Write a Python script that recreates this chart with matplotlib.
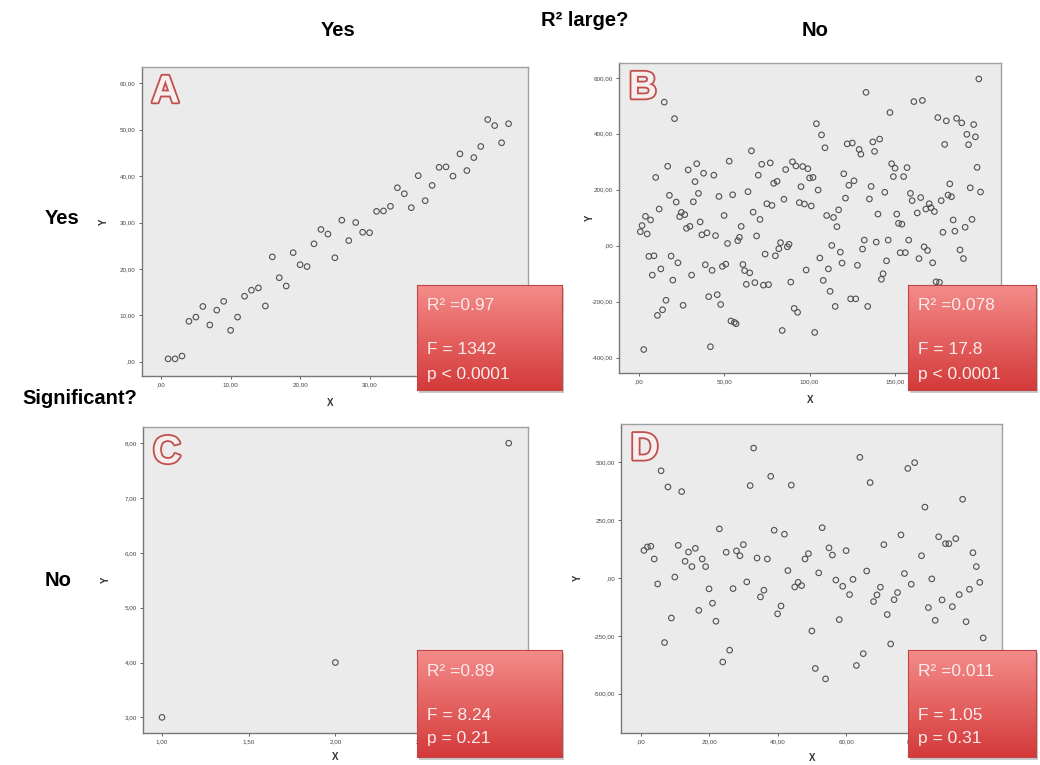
import numpy as np
import matplotlib
matplotlib.use("Agg")
import matplotlib.pyplot as plt
import matplotlib.patheffects as pe
from matplotlib.ticker import FuncFormatter, FixedLocator
from matplotlib.patches import Rectangle

plt.rcParams['font.family'] = ['Liberation Sans', 'DejaVu Sans']

# ---------------- data ----------------
A_x = list(range(1, 51))
A_y = [0.6, 0.6, 1.2, 8.7, 9.6, 11.9, 7.9, 11.1, 13.0, 6.75, 9.6, 14.1, 15.4, 15.9, 12.0,
       22.6, 18.1, 16.3, 23.5, 20.9, 20.5, 25.4, 28.5, 27.5, 22.4, 30.5, 26.1, 30.0, 27.9,
       27.8, 32.4, 32.5, 33.5, 37.5, 36.2, 33.2, 40.1, 34.7, 38.0, 41.9, 42.0, 40.0, 44.8,
       41.2, 44.0, 46.4, 52.2, 50.9, 47.2, 51.3]

B_x = list(range(1, 162)) + list(range(163, 187)) + list(range(188, 201))
B_y = [50, 72, -371, 105, 42, -38, 92, -105, -36, 244,
       -249, 131, -83, -229, 513, -195, 284, 180, -37, -123,
       454, 156, -61, 104, 119, -213, 111, 62, 271, 69,
       -105, 157, 229, 293, 187, 85, 39, 259, -68, 46,
       -182, -361, -88, 252, 36, -175, 176, -210, -74, 108,
       -66, 8, 302, -269, 182, -274, -279, 18, 30, 69,
       -67, -89, -138, 193, -97, 339, 120, -132, 35, 252,
       94, 291, -141, -30, 150, -139, 296, 144, 223, -36,
       230, -11, 11, -303, 166, 272, -4, 5, -130, 300,
       -224, 285, -238, 154, 211, 283, 149, -87, 275, 242,
       142, 244, -310, 436, 199, -44, 396, -124, 350, 108,
       -83, -163, 1, 101, -217, 68, 128, -23, -62, 257,
       170, 364, 216, -190, 367, 232, -190, -70, 344, 327,
       -12, 20, 548, -217, 167, 212, 371, 337, 13, 113,
       381, -120, -100, 191, -54, 20, 476, 293, 247, 277,
       113, 80, -25, 77, 247, -25, 279, 20, 187, 161,
       515,
       117, -46, 172, 519, -4, 131, -17, 150, 136, -61,
       122, -129, 458, -131, 161, 48, 362, 446, 181, 221,
       175, 92, 52, 455,
       -15, 439, -46, 66, 398, 361, 207, 94, 433, 389, 280, 596, 192]

C_x = [1.0, 2.0, 3.0]
C_y = [3.0, 4.0, 8.0]

D_x = list(range(1, 81)) + list(range(82, 101))
D_y = [119, 134, 137, 82, -26, 463, -279, 393, -173, 4,
       141, 373, 72, 112, 49, 128, -140, 82, 49, -47,
       -109, -187, 212, -363, 111, -312, -46, 117, 96, 144,
       -17, 399, 561, 86, -82, -53, 82, 439, 206, -155,
       -121, 189, 32, 401, -39, -19, -33, 82, 105, -229,
       -391, 22, 217, -436, 130, 99, -9, -180, -36, 118,
       -72, -6, -378, 521, -327, 30, 412, -102, -73, -40,
       144, -158, -285, -94, -63, 186, 19, 473, -27, 498,
       96, 306, -128, -4, -183, 178, -95, 148, 148, -124,
       170, -72, 340, -189, -49, 109, 49, -19, -259]

stats = {
    "A": ["R\u00b2 =0.97", "F = 1342", "p < 0.0001"],
    "B": ["R\u00b2 =0.078", "F = 17.8", "p < 0.0001"],
    "C": ["R\u00b2 =0.89", "F = 8.24", "p = 0.21"],
    "D": ["R\u00b2 =0.011", "F = 1.05", "p = 0.31"],
}

xticks = {"A": [0, 10, 20, 30, 40, 50], "B": [0, 50, 100, 150, 200],
          "C": [1, 1.5, 2, 2.5, 3], "D": [0, 20, 40, 60, 80, 100]}
yticks = {"A": [0, 10, 20, 30, 40, 50, 60], "B": [-400, -200, 0, 200, 400, 600],
          "C": [3, 4, 5, 6, 7, 8], "D": [-500, -250, 0, 250, 500]}

# ---------------- layout ----------------
W, H = 1040, 765
fig = plt.figure(figsize=(W / 100, H / 100), dpi=100)
fig.patch.set_facecolor('white')


def px_rect(x0, y0, x1, y1):
    return [x0 / W, 1 - y1 / H, (x1 - x0) / W, (y1 - y0) / H]


def fmt(v, pos):
    s = f"{v:.2f}".replace('.', ',')
    if s.startswith('0,'):
        s = s[1:]
    return s


panels = {
    "A": dict(rect=(141.7, 66.7, 528, 376), xlim=(-2.8, 52.8), ylim=(-3.1, 63.6),
              data=(A_x, A_y), box=(417, 285, 562, 390), xl=(330, 403), yl=(104, 222)),
    "B": dict(rect=(619.3, 62.7, 1000.7, 373.3), xlim=(-11.3, 211.8), ylim=(-456, 654),
              data=(B_x, B_y), box=(908, 285, 1036, 390), xl=(810, 400), yl=(590, 218)),
    "C": dict(rect=(143.3, 427.3, 528.3, 732.7), xlim=(0.892, 3.113), ylim=(2.72, 8.29),
              data=(C_x, C_y), box=(417, 650, 562, 757), xl=(335, 757), yl=(106, 580)),
    "D": dict(rect=(621, 424, 1001.7, 733.3), xlim=(-5.7, 105.4), ylim=(-671, 665),
              data=(D_x, D_y), box=(908, 650, 1036, 757), xl=(812, 758), yl=(578, 578)),
}

grad = np.linspace(0, 1, 256).reshape(-1, 1)
top_c = np.array([0xf4, 0x8c, 0x8a]) / 255
bot_c = np.array([0xd4, 0x3a, 0x3a]) / 255
grad_img = (top_c[None, None, :] * (1 - grad[..., None]) + bot_c[None, None, :] * grad[..., None])

for key, p in panels.items():
    ax = fig.add_axes(px_rect(*p["rect"]))
    ax.set_facecolor('#ebebeb')
    x, y = p["data"]
    ax.scatter(x, y, s=16, facecolors='none', edgecolors='#505050', linewidths=0.8, zorder=3)
    ax.set_xlim(*p["xlim"])
    ax.set_ylim(*p["ylim"])
    ax.xaxis.set_major_locator(FixedLocator(xticks[key]))
    ax.yaxis.set_major_locator(FixedLocator(yticks[key]))
    ax.xaxis.set_major_formatter(FuncFormatter(fmt))
    ax.yaxis.set_major_formatter(FuncFormatter(fmt))
    ax.tick_params(labelsize=4.5, length=2.5, width=0.6, colors='#444444', pad=2)
    for side in ['left', 'bottom']:
        ax.spines[side].set_color('#777777')
        ax.spines[side].set_linewidth(1.0)
    for side in ['top', 'right']:
        ax.spines[side].set_color('#a0a0a0')
        ax.spines[side].set_linewidth(1.0)
    # panel letter
    ax.text(0.025, 0.975, key, transform=ax.transAxes, ha='left', va='top',
            fontsize=28, fontweight='bold', color='#f7eeee', zorder=5,
            path_effects=[pe.Stroke(linewidth=2.6, foreground='#c0504d'), pe.Normal()])
    # axis labels
    fig.text(p["xl"][0] / W, 1 - p["xl"][1] / H, "X", ha='center', va='center',
             fontsize=7, fontweight='bold', color='#333333')
    fig.text(p["yl"][0] / W, 1 - p["yl"][1] / H, "Y", ha='center', va='center',
             fontsize=7, fontweight='bold', color='#333333', rotation=90)

    # red stats box
    bx0, by0, bx1, by1 = p["box"]
    shadow = fig.add_axes(px_rect(bx0 + 2, by0 + 3, bx1 + 2, by1 + 3), zorder=9)
    shadow.set_facecolor((0.4, 0.4, 0.4, 0.35))
    shadow.set_xticks([]); shadow.set_yticks([])
    for s in shadow.spines.values():
        s.set_visible(False)
    bax = fig.add_axes(px_rect(bx0, by0, bx1, by1), zorder=10)
    bax.imshow(grad_img, aspect='auto', extent=(0, 1, 0, 1), origin='upper')
    bax.set_xlim(0, 1); bax.set_ylim(0, 1)
    bax.set_xticks([]); bax.set_yticks([])
    for s in bax.spines.values():
        s.set_color('#c04545')
        s.set_linewidth(0.8)
    lines = stats[key]
    offsets = [21, 65, 89]
    for txt, off in zip(lines, offsets):
        fig.text((bx0 + 10) / W, 1 - (by0 + off) / H, txt, ha='left', va='center',
                 fontsize=12.5, color='#fbecec', zorder=11)

# headers
hdr = dict(fontsize=14.5, fontweight='bold', color='black', ha='center', va='center')
fig.text(338 / W, 1 - 31 / H, "Yes", **hdr)
fig.text(585 / W, 1 - 20 / H, "R\u00b2 large?", **hdr)
fig.text(815 / W, 1 - 31 / H, "No", **hdr)
fig.text(62 / W, 1 - 218 / H, "Yes", **hdr)
fig.text(80 / W, 1 - 398 / H, "Significant?", **hdr)
fig.text(58 / W, 1 - 580 / H, "No", **hdr)

fig.savefig("out.png", dpi=100)
